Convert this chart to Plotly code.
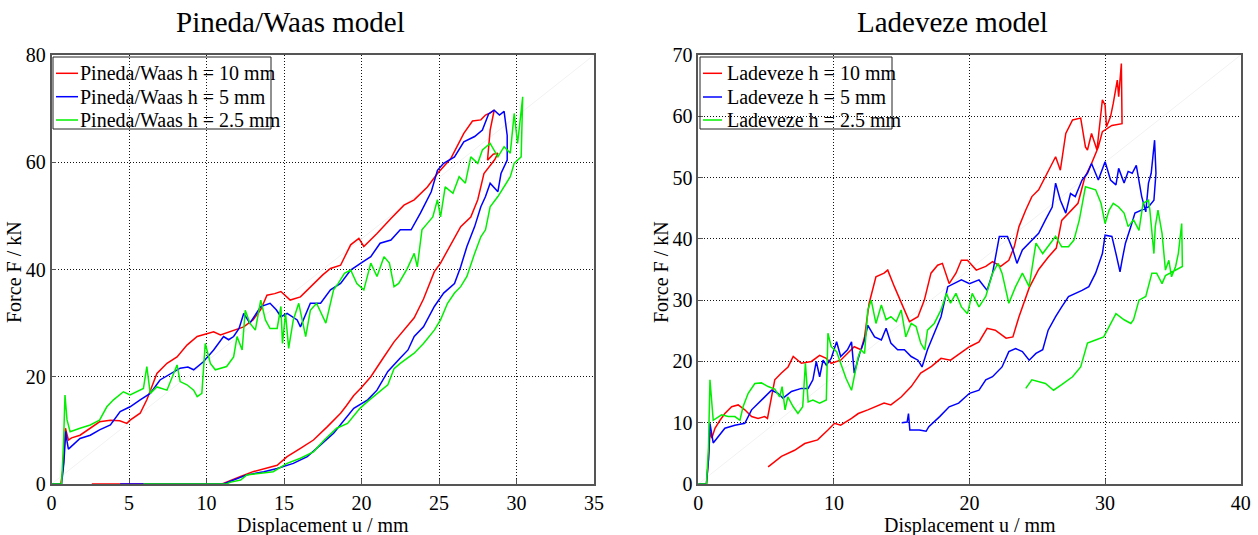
import plotly.graph_objects as go

# ---------------- data (displacement mm, force kN) ----------------
PW10 = [(0,0),(0.6,0),(0.75,3),(0.9,10.4),(1.09,8.2),(1.3,8.6),(1.84,9.1),(2.5,10.4),(3.1,11.6),(3.8,11.9),
        (4.4,11.8),(4.86,11.3),(5.07,11.9),(5.72,13.2),(6.15,15.7),(6.8,20.6),(7.45,22.5),(8.1,23.7),(8.74,25.9),
        (9.4,27.5),(10.0,28.0),(10.46,28.4),(10.9,27.8),(11.5,28.4),(12.4,29.3),(13.0,30.6),(13.5,32.5),(13.9,35.2),
        (14.4,35.5),(14.8,35.9),(15.4,34.3),(16.06,34.9),(16.9,37.4),(17.5,39.0),(18.0,40.2),(18.65,40.8),(19.3,44.6),
        (19.83,45.8),(20.15,44.3),(21.0,46.7),(21.9,49.5),(22.74,52.0),(23.4,53.0),(24.25,55.4),(24.9,57.9),
        (25.76,60.7),(26.6,65.4),(27.16,67.7),(27.7,67.9),(28.0,68.8),(28.3,69.2),(28.56,69.7),(28.3,66.0),
        (28.13,60.4),(28.5,61.5),(28.8,61.7),(28.6,60.5),(27.9,57.9),(27.5,53.0),(27.05,49.8),(26.4,48.0),
        (25.8,44.9),(25.1,41.2),(24.7,39.6),(24.0,34.5),(23.4,31.0),(22.7,28.5),(22.1,26.5),(21.4,23.5),(20.6,20.0),
        (20.0,18.0),(19.5,16.5),(19.0,14.5),(18.65,13.2),(17.8,10.7),(16.9,8.2),(16.06,6.65),(15.2,5.1),(14.56,3.5),
        (13.7,2.9),(13.0,2.3),(12.2,1.4),(11.3,0.4),(11.0,0),(2.6,0)]

PW5 = [(0,0),(0.65,0),(0.8,4),(0.92,9.8),(1.0,8.0),(1.09,6.5),(1.84,8.5),(2.5,9.1),(3.1,10.1),(3.8,11.0),
       (4.43,13.5),(5.07,14.4),(5.72,15.7),(6.37,16.9),(7.0,19.4),(7.66,20.6),(8.3,21.6),(8.8,21.8),(9.17,21.3),
       (9.8,22.8),(10.46,25.0),(11.1,27.5),(11.43,26.9),(11.75,27.5),(12.1,29.0),(12.4,31.8),(12.8,30.0),(13.5,33.1),
       (14.1,33.7),(14.5,32.5),(14.8,31.2),(15.2,31.8),(15.85,30.6),(16.06,29.3),(16.7,33.7),(17.36,33.7),
       (18.0,36.2),(18.65,37.4),(19.3,39.9),(19.96,41.2),(20.6,42.4),(21.2,44.9),(21.9,45.5),(22.5,47.4),
       (23.2,47.4),(23.8,50.5),(24.5,54.5),(24.9,58.5),(25.3,59.8),(26.0,61.0),(26.6,63.8),(27.3,64.8),(27.8,66.0),
       (28.2,69.0),(28.56,69.7),(28.9,68.8),(29.2,69.5),(29.4,65.0),(29.4,60.4),(29.0,57.9),(28.8,54.5),(28.3,56.1),
       (28.0,53.6),(27.7,51.7),(27.3,48.0),(26.8,44.3),(26.4,40.5),(26.0,37.4),(25.3,35.6),(24.7,33.1),(24.0,29.3),
       (23.4,27.5),(23.0,25.0),(22.5,23.5),(21.7,21.0),(21.0,17.5),(20.4,15.7),(19.5,14.1),(18.9,11.9),(18.2,9.45),
       (17.36,7.3),(16.5,5.1),(15.6,3.85),(14.56,2.9),(13.7,2.3),(12.6,1.7),(11.75,0.75),(11.1,0),(4.43,0)]

PW25 = [(0,0),(0.65,0),(0.78,8),(0.87,16.6),(1.0,12.0),(1.2,9.75),(1.84,10.4),(2.5,11.0),(3.1,11.9),(3.57,14.4),
        (4.0,15.7),(4.64,17.2),(5.07,16.6),(5.5,17.2),(5.93,17.8),(6.15,21.9),(6.37,16.9),(6.8,18.1),(7.45,17.5),
        (8.1,22.2),(8.3,19.1),(8.74,18.5),(9.17,17.5),(9.4,16.3),(9.7,16.9),(9.92,26.2),(10.25,22.5),(10.57,21.3),
        (11.3,21.9),(11.75,23.7),(11.97,27.5),(12.3,25.0),(12.5,32.4),(12.8,30.0),(13.15,28.7),(13.5,34.3),
        (13.8,30.6),(14.1,29.0),(14.56,29.0),(14.8,33.1),(14.9,26.2),(15.1,31.8),(15.3,25.3),(15.6,30.6),
        (15.95,33.7),(16.4,27.5),(16.7,32.4),(17.1,33.7),(17.7,30.0),(18.2,36.2),(18.5,37.4),(18.9,39.3),(19.3,39.9),
        (19.7,37.4),(20.15,36.2),(20.6,41.2),(21.0,38.7),(21.45,42.4),(21.8,41.2),(22.1,36.8),(22.4,37.4),
        (22.96,40.2),(23.4,43.0),(23.6,40.5),(23.9,47.4),(24.25,48.6),(24.6,49.8),(24.9,53.0),(25.1,49.8),
        (25.4,55.4),(25.9,54.2),(26.3,57.3),(26.7,56.1),(27.05,61.0),(27.5,59.8),(27.8,62.3),(28.3,63.5),(28.8,61.0),
        (29.2,62.9),(29.6,61.7),(29.85,69.1),(30.07,63.5),(30.4,72.2),(30.3,61.0),(29.85,59.8),(29.6,57.3),
        (29.2,55.4),(28.8,53.6),(28.3,51.7),(28.0,47.4),(27.7,46.1),(27.3,43.0),(26.8,38.7),(26.4,36.8),(26.0,35.6),
        (25.55,33.7),(25.1,30.6),(24.7,28.7),(24.0,26.2),(23.4,24.4),(22.5,22.5),(22.1,21.5),(21.7,18.5),(21.0,16.9),
        (20.4,15.4),(19.9,14.1),(19.1,11.3),(18.4,10.4),(17.6,8.2),(16.9,6.0),(16.06,4.8),(15.2,3.85),(14.3,2.3),
        (13.5,2.0),(12.6,1.7),(12.2,0.75),(11.5,0.3),(11.3,0),(5.93,0)]

LD10 = [(0,0),(0.6,0),(0.75,4),(0.86,8.5),(1.0,7.5),(1.23,9.1),(1.6,10.4),(1.96,11.5),(2.46,12.6),(2.94,12.9),
        (3.43,12.1),(3.93,11.0),(4.41,10.7),(4.9,11.0),(5.1,10.7),(5.64,17.0),(6.13,18.1),(6.62,19.1),(7.0,20.8),
        (7.6,19.7),(8.34,20.0),(8.95,21.0),(9.44,20.5),(9.8,19.7),(10.5,20.2),(11.0,21.3),(11.5,22.4),(12.0,21.9),
        (12.26,24.0),(12.6,29.5),(13.1,33.8),(13.7,34.4),(13.97,34.9),(14.46,32.2),(14.96,29.5),(15.57,26.5),
        (16.2,27.3),(16.67,30.0),(17.16,34.4),(17.65,35.7),(18.0,36.0),(18.5,32.7),(19.0,34.4),(19.4,36.5),
        (19.85,36.5),(20.5,34.9),(21.2,35.5),(21.7,36.3),(22.3,35.5),(22.9,36.5),(23.3,38.7),(23.65,42.0),
        (24.15,44.7),(24.6,46.9),(25.1,48.0),(25.6,50.1),(26.1,52.3),(26.35,53.4),(26.7,51.2),(27.1,57.2),
        (27.6,59.4),(28.2,59.7),(28.55,55.0),(28.7,54.5),(29.0,57.2),(29.4,54.5),(29.8,62.7),(30.0,61.8),
        (30.1,58.3),(30.4,59.9),(30.6,62.1),(30.9,65.9),(31.0,63.2),(31.2,68.6),(31.25,58.8),(30.5,58.5),
        (29.8,57.5),(29.5,55.0),(29.0,52.3),(28.5,50.0),(28.0,45.8),(27.3,44.2),(26.8,43.0),(26.4,38.5),(25.8,37.0),
        (25.1,35.0),(24.4,32.0),(23.65,27.3),(23.2,24.0),(22.7,23.8),(21.9,25.1),(21.3,25.4),(20.7,23.2),(20.0,22.4),
        (19.4,21.5),(18.6,20.2),(17.9,20.5),(17.2,19.2),(16.4,18.1),(15.7,15.9),(14.96,14.2),(14.2,12.9),(13.7,13.2),
        (13.1,12.6),(12.5,12.1),(11.8,11.5),(11.3,10.7),(10.5,9.6),(10.05,9.9),(9.56,8.8),(8.8,7.2),(7.85,6.6),
        (7.1,5.5),(6.13,4.5),(5.15,2.8)]

LD5 = [(0,0),(0.6,0),(0.75,4),(0.86,9.9),(1.1,6.7),(1.47,7.7),(1.96,9.1),(2.7,9.6),(3.43,9.9),(3.93,12.1),
       (4.41,13.2),(4.9,14.2),(5.4,15.3),(5.88,14.8),(6.25,14.0),(6.87,15.1),(7.6,15.6),(8.1,15.6),(8.45,17.0),
       (8.7,20.0),(8.95,17.5),(9.2,20.2),(9.44,19.4),(9.8,20.5),(10.2,23.2),(10.5,20.8),(11.0,21.9),(11.3,23.2),
       (11.5,18.1),(11.9,21.3),(12.26,23.5),(12.5,25.9),(13.0,24.0),(13.5,23.5),(13.85,25.4),(14.2,23.0),
       (14.7,21.9),(15.2,21.9),(15.7,20.8),(16.2,20.2),(16.5,19.1),(16.9,21.9),(17.4,24.6),(17.9,27.3),(18.4,32.2),
       (18.9,32.7),(19.4,33.3),(20.0,32.7),(20.7,33.3),(21.3,31.6),(21.7,34.4),(22.2,40.4),(22.8,40.4),(23.2,38.2),
       (23.5,36.0),(23.9,38.2),(24.6,39.8),(25.1,40.9),(25.6,43.1),(26.1,45.2),(26.35,49.1),(26.7,46.3),(27.1,44.2),
       (27.45,47.4),(27.8,46.9),(28.3,49.6),(28.7,50.7),(29.0,52.3),(29.5,49.6),(30.0,52.6),(30.4,49.6),(30.8,48.8),
       (31.0,51.5),(31.4,49.1),(31.7,51.0),(32.0,50.7),(32.3,52.0),(32.5,49.6),(32.7,46.9),(33.0,44.4),(33.2,49.1),
       (33.4,50.7),(33.65,56.1),(33.75,50.7),(33.6,46.3),(33.2,45.2),(32.2,44.2),(31.9,42.0),(31.5,39.3),
       (31.25,36.5),(31.1,34.6),(30.8,37.6),(30.5,40.4),(30.0,40.6),(29.8,37.6),(29.3,34.4),(28.8,32.2),(28.3,31.6),
       (27.8,31.1),(27.3,30.6),(26.8,28.9),(26.35,27.3),(25.8,25.1),(25.4,21.9),(24.9,21.3),(24.4,20.2),(23.9,21.6),
       (23.4,22.1),(22.9,21.6),(22.4,19.1),(21.7,17.5),(21.2,17.0),(20.7,15.3),(20.0,14.8),(19.2,13.2),(18.5,12.6),
       (17.8,11.0),(17.0,9.35),(16.8,8.6),(16.3,8.8),(15.6,8.8),(15.5,11.5),(15.4,10.1),(15.0,10.0)]

LD25 = [(0,0),(0.6,0),(0.75,6),(0.86,17.0),(1.1,10.4),(1.72,11.3),(2.2,11.0),(2.7,11.0),(3.07,10.4),(3.3,12.6),
        (3.68,14.8),(4.17,16.4),(4.66,16.5),(5.15,15.9),(5.64,15.5),(6.0,14.2),(6.18,15.9),(6.4,12.1),(6.6,14.2),
        (7.0,12.6),(7.35,11.5),(7.7,12.6),(7.9,19.7),(8.1,13.4),(8.45,13.7),(8.95,13.2),(9.44,13.7),(9.56,24.6),
        (9.8,22.4),(10.2,21.6),(10.5,19.7),(10.9,17.2),(11.3,15.3),(11.5,17.5),(11.8,20.8),(12.0,21.9),(12.26,21.3),
        (12.5,28.4),(12.75,30.0),(13.1,26.2),(13.5,29.2),(13.85,26.8),(14.2,27.3),(14.6,26.5),(14.96,28.4),
        (15.3,24.0),(15.7,26.2),(16.06,25.7),(16.4,23.0),(16.7,21.9),(16.9,25.1),(17.4,26.2),(17.9,28.4),(18.3,31.1),
        (18.6,29.5),(19.0,31.1),(19.4,28.9),(19.85,27.8),(20.2,31.1),(20.7,28.9),(21.2,30.6),(21.7,34.4),(22.1,36.0),
        (22.4,34.4),(22.9,29.5),(23.4,32.2),(23.9,34.4),(24.4,32.2),(24.9,39.3),(25.4,37.6),(25.8,38.7),(26.35,40.4),
        (26.8,38.7),(27.3,38.7),(27.7,39.8),(28.1,43.1),(28.55,48.5),(29.3,48.0),(29.7,45.8),(30.0,42.5),(30.3,44.7),
        (30.6,45.8),(31.0,45.2),(31.4,44.2),(31.7,42.0),(32.1,43.1),(32.5,41.4),(32.8,45.8),(33.2,46.3),(33.3,44.7),
        (33.6,37.6),(33.7,42.0),(33.9,44.7),(34.2,40.9),(34.45,34.9),(34.7,36.5),(34.9,33.8),(35.2,35.5),(35.4,37.6),
        (35.65,42.5),(35.7,35.5),(34.45,34.0),(34.2,32.7),(33.8,34.4),(33.45,34.4),(33.0,30.6),(32.5,30.0),
        (32.1,26.8),(31.9,26.2),(31.4,26.8),(30.8,27.8),(30.3,25.7),(29.9,24.0),(29.3,23.5),(28.7,23.0),(28.2,19.1),
        (27.6,17.5),(26.8,16.2),(26.2,15.3),(25.6,16.4),(25.1,16.7),(24.6,17.0),(24.15,15.6)]

# faint diagonal guide lines visible in the reference
DIAG_LEFT = [(0, 0), (35, 80)]
DIAG_RIGHT = [(0, 0), (40, 70)]

LEFT_NAMES = ["Pineda/Waas h = 10 mm", "Pineda/Waas h = 5 mm", "Pineda/Waas h = 2.5 mm"]
RIGHT_NAMES = ["Ladeveze h = 10 mm", "Ladeveze h = 5 mm", "Ladeveze h = 2.5 mm"]
COLORS = ["#ff0000", "#0000ff", "#00f000"]

FONT = "Liberation Serif"
W, H = 1258, 535


def xs(p):
    return [a for a, _ in p]


def ys(p):
    return [b for _, b in p]


def px_x(p):
    return p / W


def px_y(p):
    return 1 - p / H


fig = go.Figure()

fig.add_trace(go.Scatter(x=xs(DIAG_LEFT), y=ys(DIAG_LEFT), mode="lines", xaxis="x", yaxis="y",
                         line=dict(color="rgb(242,242,242)", width=1), showlegend=False, hoverinfo="skip"))
fig.add_trace(go.Scatter(x=xs(DIAG_RIGHT), y=ys(DIAG_RIGHT), mode="lines", xaxis="x2", yaxis="y2",
                         line=dict(color="rgb(242,242,242)", width=1), showlegend=False, hoverinfo="skip"))

for pts, name, col in zip([PW10, PW5, PW25], LEFT_NAMES, COLORS):
    fig.add_trace(go.Scatter(x=xs(pts), y=ys(pts), mode="lines", name=name, xaxis="x", yaxis="y",
                             line=dict(color=col, width=1.5), showlegend=False, cliponaxis=False))
for pts, name, col in zip([LD10, LD5, LD25], RIGHT_NAMES, COLORS):
    fig.add_trace(go.Scatter(x=xs(pts), y=ys(pts), mode="lines", name=name, xaxis="x2", yaxis="y2",
                             line=dict(color=col, width=1.5), showlegend=False, cliponaxis=False))

# ---- legends (MATLAB-style boxes with short line samples, transparent background) ----
shapes = []
annotations = []
legend_specs = [
    # box left, box right, line x0, line x1, text x, row centres, names
    (53, 271, 56, 78, 78, [73.3, 96.7, 120.0], LEFT_NAMES),
    (700, 892, 703, 722, 725, [73.3, 97.0, 120.0], RIGHT_NAMES),
]
for bx0, bx1, lx0, lx1, tx, rows, names in legend_specs:
    shapes.append(dict(type="rect", xref="paper", yref="paper", x0=px_x(bx0), x1=px_x(bx1),
                       y0=px_y(129), y1=px_y(57), line=dict(color="#222222", width=1),
                       fillcolor="rgba(0,0,0,0)", layer="above"))
    for ry, name, col in zip(rows, names, COLORS):
        shapes.append(dict(type="line", xref="paper", yref="paper", x0=px_x(lx0), x1=px_x(lx1),
                           y0=px_y(ry), y1=px_y(ry), line=dict(color=col, width=1.5)))
        annotations.append(dict(text=name, x=px_x(tx), y=px_y(ry), xref="paper", yref="paper",
                                xanchor="left", yanchor="middle", showarrow=False,
                                font=dict(family=FONT, size=20, color="black")))

annotations += [
    dict(text="Pineda/Waas model", x=px_x(290), y=px_y(22), xref="paper", yref="paper",
         xanchor="center", yanchor="middle", showarrow=False, font=dict(family=FONT, size=29, color="black")),
    dict(text="Ladeveze model", x=px_x(952), y=px_y(22), xref="paper", yref="paper",
         xanchor="center", yanchor="middle", showarrow=False, font=dict(family=FONT, size=29, color="black")),
    dict(text="Displacement u / mm", x=px_x(322.7), y=px_y(525), xref="paper", yref="paper",
         xanchor="center", yanchor="middle", showarrow=False, font=dict(family=FONT, size=20, color="black")),
    dict(text="Displacement u / mm", x=px_x(969.5), y=px_y(525), xref="paper", yref="paper",
         xanchor="center", yanchor="middle", showarrow=False, font=dict(family=FONT, size=20, color="black")),
    dict(text="Force F / kN", x=px_x(14), y=px_y(272), xref="paper", yref="paper", textangle=-90,
         xanchor="center", yanchor="middle", showarrow=False, font=dict(family=FONT, size=20, color="black")),
    dict(text="Force F / kN", x=px_x(661), y=px_y(272), xref="paper", yref="paper", textangle=-90,
         xanchor="center", yanchor="middle", showarrow=False, font=dict(family=FONT, size=20, color="black")),
]

axis_common = dict(showgrid=True, gridcolor="#111111", gridwidth=1, griddash="1px,2px", zeroline=False,
                   showline=True, mirror=True, linecolor="#555555", linewidth=1.5,
                   ticks="inside", ticklen=5, tickcolor="#555555", layer="below traces",
                   tickfont=dict(family=FONT, size=20, color="black"), automargin=False)

fig.update_layout(
    width=W, height=H, margin=dict(l=0, r=0, t=0, b=0),
    paper_bgcolor="white", plot_bgcolor="white",
    font=dict(family=FONT, color="black"),
    xaxis=dict(domain=[px_x(51.5), px_x(594)], range=[0, 35], dtick=5, anchor="y", **axis_common),
    yaxis=dict(domain=[px_y(484), px_y(55)], range=[0, 80], dtick=20, anchor="x", **axis_common),
    xaxis2=dict(domain=[px_x(698.3), px_x(1240.7)], range=[0, 40], dtick=10, anchor="y2", **axis_common),
    yaxis2=dict(domain=[px_y(484), px_y(55)], range=[0, 70], dtick=10, anchor="x2", **axis_common),
    showlegend=False,
    shapes=shapes,
    annotations=annotations,
)

fig.write_html("out.html")
